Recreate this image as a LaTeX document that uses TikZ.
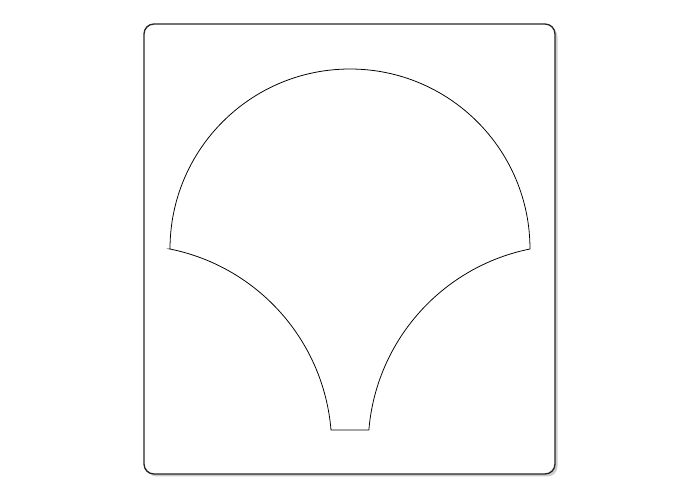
\documentclass[tikz,border=0pt]{standalone}
\usepackage{tikz}

\begin{document}
\begin{tikzpicture}[x=0.05cm,y=0.05cm]
  \useasboundingbox (0,0) rectangle (700,500);
  % card with a faint shadow
  \fill[black!20,rounded corners=0.5cm] (146.5,23.5) rectangle (557.5,473.5);
  \fill[white,draw=black!85,line width=1.9pt,rounded corners=0.5cm] (144,26) rectangle (555,476);
  % shell outline
  \draw[line width=1.1pt,line join=miter]
    (170,251) arc[start angle=180,end angle=0,radius=9cm]
    arc[start angle=101.4,end angle=175.25,radius=10.085cm]
    -- (331,70)
    arc[start angle=4.75,end angle=78.6,radius=10.085cm] -- cycle;
\end{tikzpicture}
\end{document}
